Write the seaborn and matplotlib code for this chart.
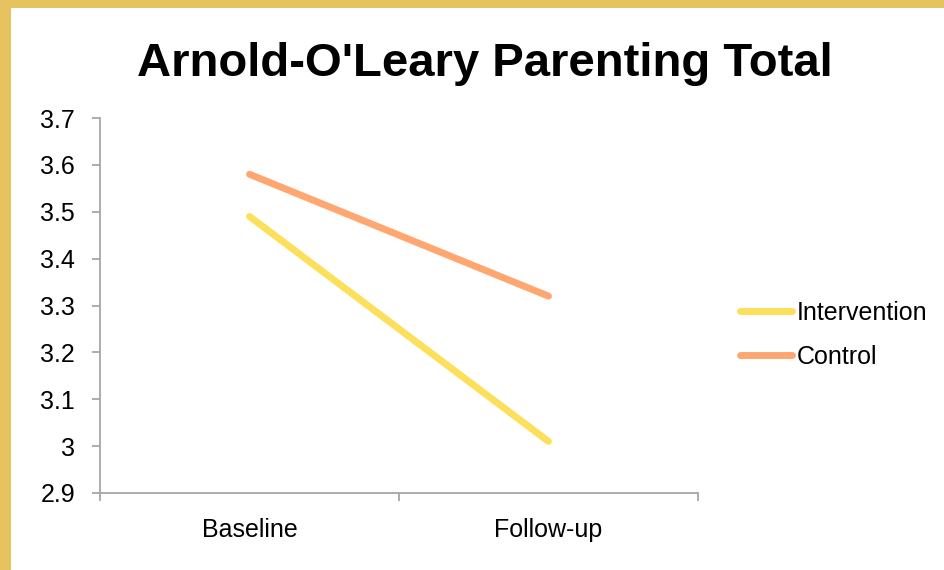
import pandas as pd
import matplotlib
matplotlib.use('Agg')
import matplotlib.pyplot as plt
import seaborn as sns
from matplotlib.patches import Rectangle

# data
timepoints = ['Baseline', 'Follow-up']
intervention = [3.49, 3.01]
control = [3.58, 3.32]
groups = ['Intervention', 'Control']
y_ticks = [2.9, 3.0, 3.1, 3.2, 3.3, 3.4, 3.5, 3.6, 3.7]
y_labels = ['2.9', '3', '3.1', '3.2', '3.3', '3.4', '3.5', '3.6', '3.7']

df = pd.DataFrame({
    'time': timepoints * 2,
    'score': intervention + control,
    'group': [groups[0]] * 2 + [groups[1]] * 2,
})

sns.set_style('white')
plt.rcParams['font.family'] = ['Liberation Sans', 'DejaVu Sans']
plt.rcParams['text.color'] = 'black'
plt.rcParams['xtick.color'] = 'black'
plt.rcParams['ytick.color'] = 'black'

fig = plt.figure(figsize=(9.44, 5.70), dpi=100)
fig.patch.set_facecolor('#E7C35F')
# white slide area inside the golden border
fig.patches.append(Rectangle((11 / 944, 0), 1, 1 - 8 / 570, transform=fig.transFigure,
                             facecolor='white', edgecolor='none', zorder=-5))

ax = fig.add_axes([100 / 944, 1 - 493 / 570, 598 / 944, 375 / 570])
ax.set_facecolor('none')

palette = {'Intervention': '#FCE05C', 'Control': '#FFA771'}
sns.lineplot(data=df, x='time', y='score', hue='group', palette=palette,
             linewidth=5, solid_capstyle='round', ax=ax, legend=False)

ax.set_xlim(-0.5, 1.5)
ax.set_ylim(2.9, 3.7)
ax.set_yticks(y_ticks)
ax.set_yticklabels(y_labels, fontsize=18)
ax.set_xticks([-0.5, 0.5, 1.5])
ax.set_xticklabels([])
ax.set_xticks([0, 1], minor=True)
ax.set_xticklabels(timepoints, minor=True, fontsize=18)
ax.tick_params(axis='x', which='minor', length=0, pad=18)
ax.tick_params(axis='both', which='major', length=6, width=1.3, color='#A6A6A6',
               direction='out', left=True, bottom=True)
ax.tick_params(axis='y', pad=12)
ax.set_xlabel('')
ax.set_ylabel('')

for side in ['top', 'right']:
    ax.spines[side].set_visible(False)
for side in ['left', 'bottom']:
    ax.spines[side].set_color('#A6A6A6')
    ax.spines[side].set_linewidth(1.3)

fig.text(485 / 944, 1 - 64 / 570, "Arnold-O'Leary Parenting Total", ha='center', va='center',
         fontsize=34, fontweight='bold', color='black')

# legend on the right
handles = [plt.Line2D([], [], color=palette[g], linewidth=5, solid_capstyle='round') for g in groups]
fig.legend(handles, groups, loc='center left', bbox_to_anchor=(717 / 944, 1 - 335 / 570),
           frameon=False, fontsize=18, handlelength=2.1, handletextpad=0.2, labelspacing=0.8)

fig.savefig('out.png', dpi=100, facecolor=fig.get_facecolor())
